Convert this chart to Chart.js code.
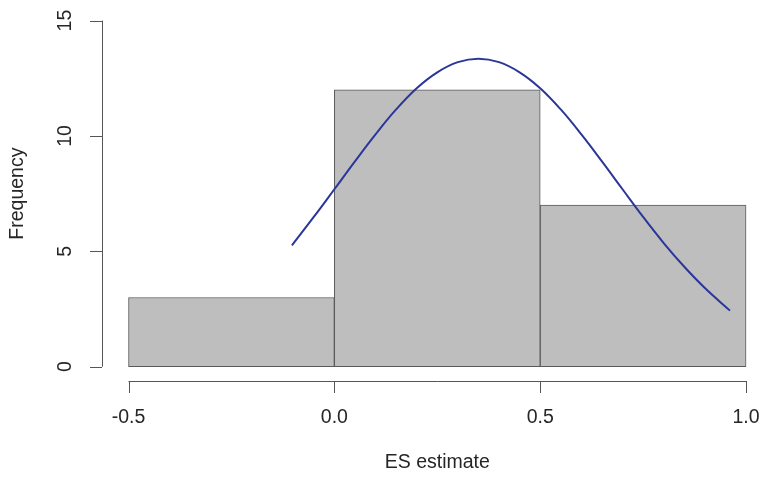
<!DOCTYPE html>
<html>
<head>
<meta charset="utf-8">
<script src="https://cdn.jsdelivr.net/npm/chart.js@4/dist/chart.umd.min.js"></script>
<style>
  html, body { margin: 0; padding: 0; background: #fff; }
  #wrap { width: 760px; height: 477px; }
</style>
</head>
<body>
<div id="wrap"><canvas id="hist" width="760" height="477"></canvas></div>
<script>
  // histogram bins (midpoints) and counts
  const binMids = [-0.25, 0.25, 0.75];
  const binCounts = [3, 12, 7];

  // fitted curve
  const curveX = [-0.103, -0.05, 0.00, 0.05, 0.10, 0.15, 0.20, 0.25, 0.30, 0.35, 0.40, 0.45,
                  0.50, 0.55, 0.60, 0.65, 0.70, 0.75, 0.80, 0.85, 0.90, 0.961];
  const curveY = [5.26, 6.49, 7.69, 8.90, 10.07, 11.15, 12.07, 12.76, 13.20, 13.35, 13.20, 12.76,
                  12.07, 11.15, 10.07, 8.90, 7.69, 6.49, 5.36, 4.33, 3.41, 2.43];

  const xTicks = [-0.5, 0.0, 0.5, 1.0];
  const yTicks = [0, 5, 10, 15];
  const xTitle = 'ES estimate';
  const yTitle = 'Frequency';

  const FONT = '19.5px "Liberation Sans", Arial, sans-serif';
  const INK = '#262626';
  const AXIS = '#555555';

  // R style axes: line only over the tick range, detached from bars
  const rAxes = {
    id: 'rAxes',
    afterDraw(chart) {
      const { ctx, scales: { x, y } } = chart;
      const xb = chart.chartArea.bottom;
      const yl = chart.chartArea.left;
      ctx.save();
      ctx.strokeStyle = AXIS;
      ctx.lineWidth = 1;
      ctx.fillStyle = INK;
      ctx.font = FONT;

      // x axis
      ctx.beginPath();
      ctx.moveTo(x.getPixelForValue(xTicks[0]), xb + 0.5);
      ctx.lineTo(x.getPixelForValue(xTicks[xTicks.length - 1]), xb + 0.5);
      xTicks.forEach(v => {
        const px = Math.round(x.getPixelForValue(v)) + 0.5;
        ctx.moveTo(px, xb);
        ctx.lineTo(px, xb + 12);
      });
      ctx.stroke();
      ctx.textAlign = 'center';
      ctx.textBaseline = 'middle';
      xTicks.forEach(v => {
        ctx.fillText(v.toFixed(1), x.getPixelForValue(v), xb + 37);
      });
      ctx.fillText(xTitle, (x.getPixelForValue(xTicks[0]) + x.getPixelForValue(xTicks[3])) / 2, xb + 82);

      // y axis
      ctx.beginPath();
      ctx.moveTo(yl + 0.5, y.getPixelForValue(yTicks[0]));
      ctx.lineTo(yl + 0.5, y.getPixelForValue(yTicks[yTicks.length - 1]));
      yTicks.forEach(v => {
        const py = Math.round(y.getPixelForValue(v)) + 0.5;
        ctx.moveTo(yl, py);
        ctx.lineTo(yl - 12, py);
      });
      ctx.stroke();
      yTicks.forEach(v => {
        ctx.save();
        ctx.translate(yl - 36, y.getPixelForValue(v));
        ctx.rotate(-Math.PI / 2);
        ctx.fillText(String(v), 0, 0);
        ctx.restore();
      });
      ctx.save();
      ctx.translate(yl - 84, (y.getPixelForValue(yTicks[0]) + y.getPixelForValue(yTicks[3])) / 2);
      ctx.rotate(-Math.PI / 2);
      ctx.fillText(yTitle, 0, 0);
      ctx.restore();

      ctx.restore();
    }
  };

  let canvasHist = document.getElementById('hist').getContext('2d');

  let histChart = new Chart(canvasHist, {
    type: 'bar',
    data: {
      datasets: [{
        type: 'line',
        data: curveX.map((v, i) => ({ x: v, y: curveY[i] })),
        borderColor: '#2b3699',
        borderWidth: 2,
        pointRadius: 0,
        tension: 0.4,
        fill: false,
        clip: false,
        order: 0
      }, {
        type: 'bar',
        data: binMids.map((v, i) => ({ x: v, y: binCounts[i] })),
        backgroundColor: '#bebebe',
        borderColor: '#5a5a5a',
        borderWidth: 1,
        borderSkipped: false,
        barPercentage: 1,
        categoryPercentage: 1,
        order: 1
      }]
    },
    options: {
      responsive: false,
      animation: false,
      layout: { padding: { left: 102, right: 0, top: 7, bottom: 96 } },
      plugins: { legend: { display: false }, tooltip: { enabled: false } },
      scales: {
        x: {
          type: 'linear',
          display: false,
          offset: false,
          min: -0.5644,
          max: 1.0339,
          afterBuildTicks: s => { s.ticks = xTicks.map(v => ({ value: v })); }
        },
        y: {
          type: 'linear',
          display: false,
          min: -0.62,
          max: 15.59
        }
      }
    },
    plugins: [rAxes]
  });
</script>
</body>
</html>
